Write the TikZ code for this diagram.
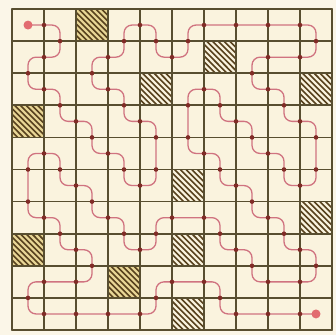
\documentclass[tikz,border=0pt]{standalone}
\definecolor{bg}{RGB}{251,246,232}
\definecolor{cellbg}{RGB}{250,243,222}
\definecolor{gridc}{RGB}{88,78,48}
\definecolor{pathc}{RGB}{208,115,128}
\definecolor{dotc}{RGB}{128,44,38}
\definecolor{hatchc}{RGB}{88,66,30}
\definecolor{hatchbg}{RGB}{232,214,150}
\definecolor{endc}{RGB}{226,108,112}
\tikzset{
  gridline/.style={draw=gridc, line width=1.7pt, line cap=round},
  trail/.style={draw=pathc, line width=1.3pt, rounded corners=8pt},
  crossdot/.style={circle, fill=dotc, inner sep=0pt, minimum size=4.6pt, midway},
  enddot/.style={circle, fill=endc, minimum size=9pt, inner sep=0pt},
  hatchline/.style={draw=hatchc, line width=1.6pt},
}
\begin{document}
\begin{tikzpicture}[x=1pt,y=-1pt]
\fill[bg] (0,0) rectangle (336,335);
\useasboundingbox (0,0) rectangle (336,335);
\begin{scope}[shift={(12,9)}, x=32pt, y=-32.1pt]
  \fill[cellbg] (0,0) rectangle (10,10);
  % hatched cells
  \foreach \c/\r/\f in {2/0/hatchbg, 6/1/cellbg, 4/2/cellbg, 9/2/cellbg, 0/3/hatchbg,
                        5/5/cellbg, 9/6/cellbg, 0/7/hatchbg, 5/7/cellbg, 3/8/hatchbg, 5/9/cellbg} {
    \begin{scope}
      \clip (\c,\r) rectangle ++(1,1);
      \fill[\f] (\c,\r) rectangle ++(1,1);
      \foreach \t in {-1,-0.82,...,1.05} \draw[hatchline] (\c+\t,\r) -- ++(1,1);
    \end{scope}
  }
  % grid
  \foreach \k in {0,...,10} {
    \draw[gridline] (\k,0) -- (\k,10);
    \draw[gridline] (0,\k) -- (10,\k);
  }
  \coordinate (start) at (0.5,0.5);
  \coordinate (end) at (9.5,9.5);
  % path through the free cells, with a dot where it crosses each cell wall
  \draw[trail] (start) \foreach \c/\r in {1/0,1/1,0/1,0/2,1/2,1/3,2/3,2/4,3/4,3/5,4/5,4/4,4/3,3/3,3/2,2/2,2/1,3/1,3/0,4/0,4/1,5/1,5/0,6/0,7/0,8/0,9/0,9/1,8/1,7/1,7/2,8/2,8/3,9/3,9/4,9/5,8/5,8/4,7/4,7/3,6/3,6/2,5/2,5/3,5/4,6/4,6/5,7/5,7/6,8/6,8/7,9/7,9/8,8/8,7/8,7/7,6/7,6/6,5/6,4/6,4/7,3/7,3/6,2/6,2/5,1/5,1/4,0/4,0/5,0/6,1/6,1/7,2/7,2/8,1/8,0/8,0/9,1/9,2/9,3/9,4/9,4/8,5/8,6/8,6/9,7/9,8/9} { -- (\c+0.5,\r+0.5) node[crossdot] (x\c-\r) {} } -- (end) node[crossdot] (xlast) {};
  \node[enddot] (startdot) at (start) {};
  \node[enddot] (enddot) at (end) {};
\end{scope}
\end{tikzpicture}
\end{document}
